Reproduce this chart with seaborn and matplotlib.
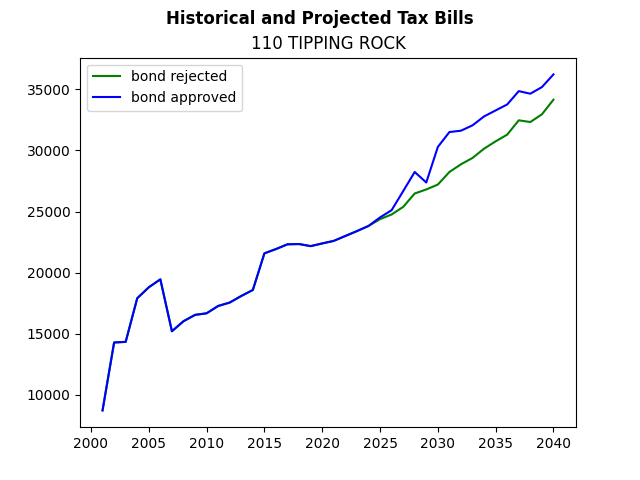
import numpy as np
import pandas as pd
import matplotlib
matplotlib.use("Agg")
import matplotlib.pyplot as plt
import seaborn as sns

years = list(range(2001, 2041))

# shared history up to the split around 2024
history = [8720, 14280, 14330, 17900, 18800, 19450, 15200, 16020, 16540, 16670,
           17270, 17550, 18090, 18580, 21580, 21930, 22320, 22340, 22170, 22390,
           22600, 23000, 23400, 23820]

bond_rejected = history + [24380, 24760, 25380, 26480, 26810, 27210, 28240, 28870,
                           29390, 30150, 30750, 31300, 32470, 32330, 32960, 34160]
bond_approved = history + [24520, 25110, 26670, 28240, 27380, 30290, 31510, 31620,
                           32060, 32790, 33280, 33770, 34860, 34650, 35190, 36230]

fig, ax = plt.subplots(figsize=(6.4, 4.8), dpi=100)

sns.lineplot(x=years, y=bond_rejected, color="green", label="bond rejected", ax=ax)
sns.lineplot(x=years, y=bond_approved, color="blue", label="bond approved", ax=ax)

fig.suptitle("Historical and Projected Tax Bills", fontweight="bold")
ax.set_title("110 TIPPING ROCK")
ax.legend(loc="upper left")

plt.savefig("out.png", dpi=100)
plt.close(fig)
